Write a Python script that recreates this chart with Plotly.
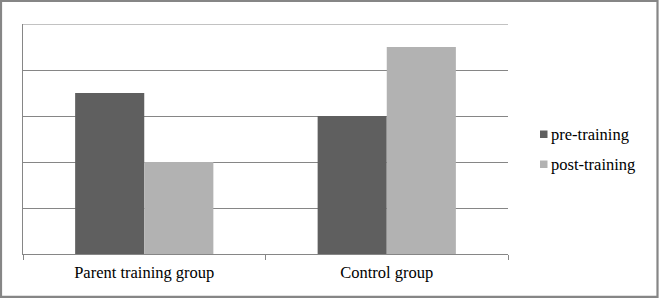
import plotly.graph_objects as go

categories = ["Parent training group", "Control group"]
series_names = ["pre-training", "post-training"]
pre_values = [3.5, 3.0]
post_values = [2.0, 4.5]
colors = ["#5f5f5f", "#b2b2b2"]

W, H = 659, 298
L, R, T, B = 23, 151, 24, 44
PW, PH = W - L - R, H - T - B

def px_x(px):
    return (px - L) / PW

def px_y(py):
    return (H - B - py) / PH

fig = go.Figure()
for name, vals, c in zip(series_names, [pre_values, post_values], colors):
    fig.add_trace(go.Bar(x=categories, y=vals, name=name, marker=dict(color=c, line=dict(width=0)),
                         showlegend=False, hoverinfo="skip"))

font = "'Liberation Serif', 'Times New Roman', serif"
FS = 16.5
shapes = [
    dict(type="line", xref="paper", yref="y", x0=0, x1=1, y0=5, y1=5,
         line=dict(color="#868686", width=1), layer="below"),
    dict(type="rect", xref="paper", yref="paper",
         x0=px_x(1), x1=px_x(657.5), y0=px_y(1), y1=px_y(296.8),
         line=dict(color="#868686", width=2.2), fillcolor="rgba(0,0,0,0)", layer="above"),
]
annotations = []
legend_y = [134, 164]
for name, c, ly in zip(series_names, colors, legend_y):
    shapes.append(dict(type="rect", xref="paper", yref="paper",
                       x0=px_x(540), x1=px_x(547.5), y0=px_y(ly - 3.5), y1=px_y(ly + 4),
                       line=dict(width=0), fillcolor=c))
    annotations.append(dict(text=name, xref="paper", yref="paper", x=px_x(549), y=px_y(ly),
                            xanchor="left", yanchor="middle", showarrow=False,
                            font=dict(family=font, size=FS, color="#000000")))

fig.update_layout(
    width=W, height=H,
    margin=dict(l=L, r=R, t=T, b=B, pad=0),
    paper_bgcolor="white", plot_bgcolor="white",
    barmode="group", bargap=0.43, bargroupgap=0,
    font=dict(family=font, size=FS, color="#000000"),
    shapes=shapes, annotations=annotations,
    xaxis=dict(showline=True, linecolor="#868686", linewidth=1, ticks="outside",
               tickson="boundaries", ticklen=5, tickcolor="#868686", tickwidth=1,
               ticklabelstandoff=3,
               showgrid=False, tickfont=dict(family=font, size=FS, color="#000000")),
    yaxis=dict(range=[0, 5], tickvals=[1, 2, 3, 4], showline=True, linecolor="#868686",
               linewidth=1, showgrid=True, gridcolor="#868686", gridwidth=1,
               showticklabels=False, zeroline=False, ticks=""),
)

fig.write_html("out.html", config={"displayModeBar": False, "staticPlot": True},
               post_script="document.body.style.margin='0';document.body.style.padding='0';")
